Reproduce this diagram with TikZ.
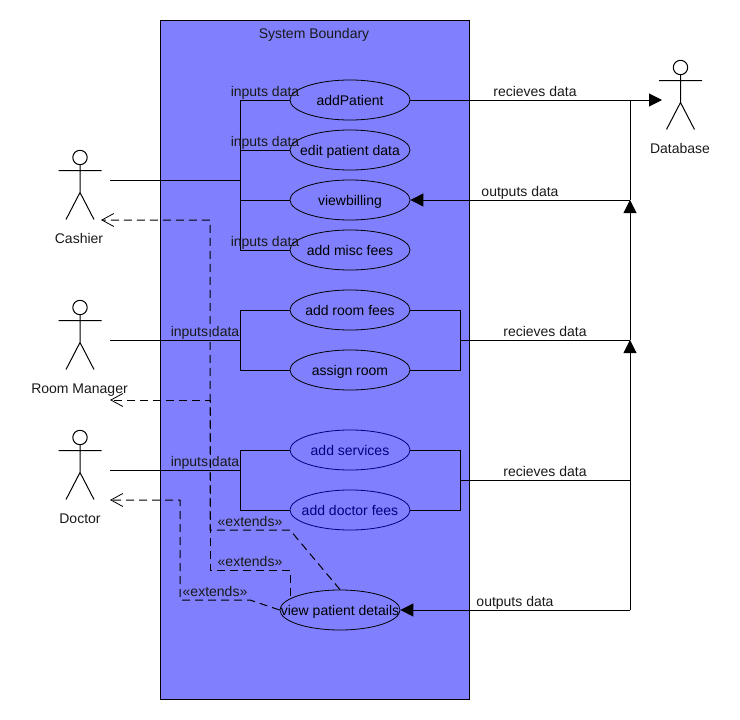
\documentclass[tikz,border=0pt]{standalone}
\usepackage{fontspec}
\setmainfont{Liberation Sans}
\usetikzlibrary{arrows.meta,shapes.geometric}
\definecolor{sysblue}{HTML}{8080FF}
\definecolor{ucblue}{HTML}{000080}
\newcommand{\uctext}[1]{\raisebox{-5pt}[0pt][0pt]{\makebox[0pt][c]{#1}}}
\tikzset{
  usecase/.style={ellipse,draw=black,fill=sysblue,line width=0.8pt,minimum width=120pt,minimum height=40pt,inner sep=0pt,text=black,font=\fontsize{14}{16}\selectfont},
  usecaseblue/.style={usecase,draw=ucblue,text=ucblue},
  actorbox/.style={rectangle,minimum width=60pt,minimum height=80pt,inner sep=0pt},
  lbl/.style={anchor=base,inner sep=0pt,font=\fontsize{14}{16}\selectfont,text=black!90},
  link/.style={draw=black,line width=1pt},
  filled/.style={link,-{Triangle[length=13pt,width=13pt]}},
  ext/.style={draw=black,line width=1pt,dash pattern=on 8pt off 5pt,-{Straight Barb[length=12pt,width=13pt,line width=0.8pt]}},
  actorline/.style={draw=black,line width=1pt},
  actor/.pic={
    \draw[actorline] (0,-22) circle (7.2);
    \draw[actorline] (0,-15) -- (0,13) (-21.5,-9) -- (21.5,-9) (-14,40) -- (0,13) -- (14,40);
  }
}
\begin{document}
\begin{tikzpicture}[x=1pt,y=-1pt]
\useasboundingbox (0,0) rectangle (740,720);
\node[rectangle,draw=black,fill=sysblue,line width=1pt,minimum width=309pt,minimum height=679pt,inner sep=0pt] (sys) at (314.8,360) {};
\node[lbl] (sysl) at (314,38) {System Boundary};

% actors
\node[actorbox] (cashier) at (80,180) {};
\node[actorbox] (room) at (80,340) {};
\node[actorbox] (doctor) at (80,470) {};
\node[actorbox] (db) at (680.5,100) {};
\pic at (80,179.5) {actor};
\pic at (80,329.5) {actor};
\pic at (80,459.5) {actor};
\pic at (680.5,89.5) {actor};
\node[lbl] (cashierl) at (79,243) {Cashier};
\node[lbl] (rooml) at (79.5,393) {Room Manager};
\node[lbl] (doctorl) at (80,523) {Doctor};
\node[lbl] (dbl) at (680,153) {Database};

% use cases
\node[usecase] (add) at (350,100) {\uctext{addPatient}};
\node[usecase] (edit) at (350,150) {\uctext{edit patient data}};
\node[usecase] (bill) at (350,200) {\uctext{viewbilling}};
\node[usecase] (misc) at (350,250) {\uctext{add misc fees}};
\node[usecase] (rfees) at (350,310) {\uctext{add room fees}};
\node[usecase] (assign) at (350,370) {\uctext{assign room}};
\node[usecaseblue] (serv) at (350,450) {\uctext{add services}};
\node[usecaseblue] (dfees) at (350,510) {\uctext{add doctor fees}};
\node[usecase] (view) at (340,610) {\uctext{view patient details}};

% junctions
\coordinate (jc) at (240,180);
\coordinate (jr) at (240,340);
\coordinate (jd) at (240,470);
\coordinate (rr) at (460,340);
\coordinate (rd) at (460,480);
\coordinate (b1) at (630,100);
\coordinate (b2) at (630,200);
\coordinate (b3) at (630,340);
\coordinate (b4) at (630,480);
\coordinate (b5) at (630,610);
\coordinate (dbin) at (662,100);
\coordinate (c1) at (290,530);
\coordinate (c2) at (210,530);
\coordinate (ca) at (101,220);
\coordinate (d1) at (290,570);
\coordinate (d2) at (210,570);
\coordinate (da) at (110,400);
\coordinate (e1) at (250,600);
\coordinate (e2) at (180,600);
\coordinate (ea) at (110,500);

% left connectors
\draw[link] (cashier.east) -- (jc);
\draw[link] (add.west) -| (jc);
\draw[link] (edit.west) -| (jc);
\draw[link] (bill.west) -| (jc);
\draw[link] (misc.west) -| (jc);
\draw[link] (room.east) -- (jr);
\draw[link] (rfees.west) -| (jr);
\draw[link] (assign.west) -| (jr);
\draw[link] (doctor.east) -- (jd);
\draw[link] (serv.west) -| (jd);
\draw[link] (dfees.west) -| (jd);

% right connectors
\draw[link] (rfees.east) -| (rr);
\draw[link] (assign.east) -| (rr);
\draw[link] (rr) -- (b3);
\draw[link] (serv.east) -| (rd);
\draw[link] (dfees.east) -| (rd);
\draw[link] (rd) -- (b4);
\draw[filled] (add.east) -- (dbin);
\draw[link] (b1) -- (b2);
\draw[filled] (b2) -- (bill.east);
\draw[filled] (b3) -- (b2);
\draw[filled] (b4) -- (b3);
\draw[link] (b5) -- (b4);
\draw[filled] (b5) -- (view.east);

% extends
\draw[ext] (view.north) -- (c1) -- (c2) |- (ca);
\draw[ext] (d1 |- view.north west) -- (d1) -- (d2) |- (da);
\draw[ext] (view.west) -- (e1) -- (e2) |- (ea);

% labels
\node[lbl] at (265,96) {inputs data};
\node[lbl] at (265,146) {inputs data};
\node[lbl] at (265,246) {inputs data};
\node[lbl] at (205,336) {inputs data};
\node[lbl] at (205,466) {inputs data};
\node[lbl] at (535,96) {recieves data};
\node[lbl] at (520,196) {outputs data};
\node[lbl] at (545,336) {recieves data};
\node[lbl] at (545,476) {recieves data};
\node[lbl] at (515,606) {outputs data};
\node[lbl] at (250,526) {«extends»};
\node[lbl] at (250,566) {«extends»};
\node[lbl] at (215,596) {«extends»};
\end{tikzpicture}
\end{document}
